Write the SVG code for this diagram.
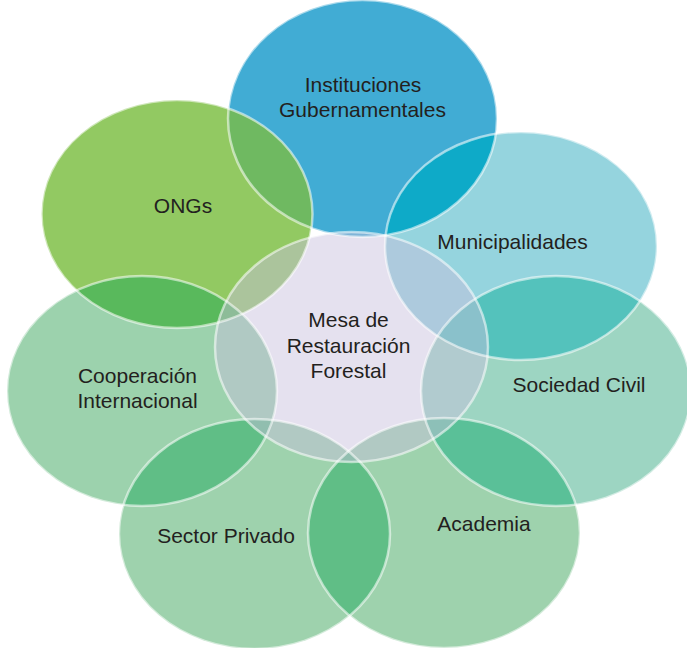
<svg xmlns="http://www.w3.org/2000/svg" xmlns:xlink="http://www.w3.org/1999/xlink" width="687" height="648" viewBox="0 0 687 648">
<style>
.lbl{font-family:"Liberation Sans",Arial,Helvetica,sans-serif;font-size:21px;fill:#231f20;text-anchor:middle}
.outline{fill:none;stroke:#ffffff;stroke-opacity:0.55;stroke-width:2.5}
</style>
<defs>
<ellipse id="e-inst" cx="362.5" cy="118.5" rx="134.5" ry="118.5"/>
<ellipse id="e-muni" cx="521" cy="246" rx="136" ry="114"/>
<ellipse id="e-soc" cx="556" cy="391" rx="135" ry="115"/>
<ellipse id="e-acad" cx="444" cy="533" rx="136" ry="115"/>
<ellipse id="e-sect" cx="254.5" cy="534" rx="135.5" ry="115"/>
<ellipse id="e-coop" cx="142" cy="391" rx="135" ry="115"/>
<ellipse id="e-ongs" cx="177" cy="214" rx="135.5" ry="114"/>
<ellipse id="e-center" cx="351.5" cy="347" rx="136.5" ry="115"/>
<clipPath id="c-inst"><use xlink:href="#e-inst"/></clipPath>
<clipPath id="c-muni"><use xlink:href="#e-muni"/></clipPath>
<clipPath id="c-soc"><use xlink:href="#e-soc"/></clipPath>
<clipPath id="c-acad"><use xlink:href="#e-acad"/></clipPath>
<clipPath id="c-sect"><use xlink:href="#e-sect"/></clipPath>
<clipPath id="c-coop"><use xlink:href="#e-coop"/></clipPath>
</defs>
<rect width="687" height="648" fill="#ffffff"/>
<g id="node-instituciones">
<use xlink:href="#e-inst" fill="#41acd4"/>
<text class="lbl" x="363" y="92">Instituciones</text>
<text class="lbl" x="362.5" y="116.5">Gubernamentales</text>
</g>
<g id="node-municipalidades">
<use xlink:href="#e-muni" fill="#95d4de"/>
<text class="lbl" x="512.5" y="249">Municipalidades</text>
</g>
<g id="node-sociedad-civil">
<use xlink:href="#e-soc" fill="#9dd5c2"/>
<text class="lbl" x="579" y="392">Sociedad Civil</text>
</g>
<g id="node-academia">
<use xlink:href="#e-acad" fill="#9ed2ad"/>
<text class="lbl" x="484" y="531">Academia</text>
</g>
<g id="node-sector-privado">
<use xlink:href="#e-sect" fill="#9ed2ad"/>
<text class="lbl" x="226" y="543">Sector Privado</text>
</g>
<g id="node-cooperacion">
<use xlink:href="#e-coop" fill="#9cd2ad"/>
<text class="lbl" x="137.5" y="383">Cooperación</text>
<text class="lbl" x="137.5" y="408">Internacional</text>
</g>
<g id="node-ongs">
<use xlink:href="#e-ongs" fill="#92c962"/>
<text class="lbl" x="183" y="212.5">ONGs</text>
</g>
<g id="overlaps">
<use xlink:href="#e-ongs" clip-path="url(#c-inst)" fill="#6fb961"/>
<use xlink:href="#e-muni" clip-path="url(#c-inst)" fill="#0eaac8"/>
<use xlink:href="#e-soc" clip-path="url(#c-muni)" fill="#54c2bc"/>
<use xlink:href="#e-acad" clip-path="url(#c-soc)" fill="#5ac098"/>
<use xlink:href="#e-sect" clip-path="url(#c-acad)" fill="#60be86"/>
<use xlink:href="#e-coop" clip-path="url(#c-sect)" fill="#60be86"/>
<use xlink:href="#e-ongs" clip-path="url(#c-coop)" fill="#59b95c"/>
</g>
<g id="node-mesa">
<use xlink:href="#e-center" fill="#c8bfdd" fill-opacity="0.47"/>
<text class="lbl" x="348.5" y="327">Mesa de</text>
<text class="lbl" x="348.5" y="352.5">Restauración</text>
<text class="lbl" x="348.5" y="377.5">Forestal</text>
</g>
<g id="outlines">
<use xlink:href="#e-inst" class="outline"/>
<use xlink:href="#e-muni" class="outline"/>
<use xlink:href="#e-soc" class="outline"/>
<use xlink:href="#e-acad" class="outline"/>
<use xlink:href="#e-sect" class="outline"/>
<use xlink:href="#e-coop" class="outline"/>
<use xlink:href="#e-ongs" class="outline"/>
<use xlink:href="#e-center" class="outline"/>
</g>
</svg>
